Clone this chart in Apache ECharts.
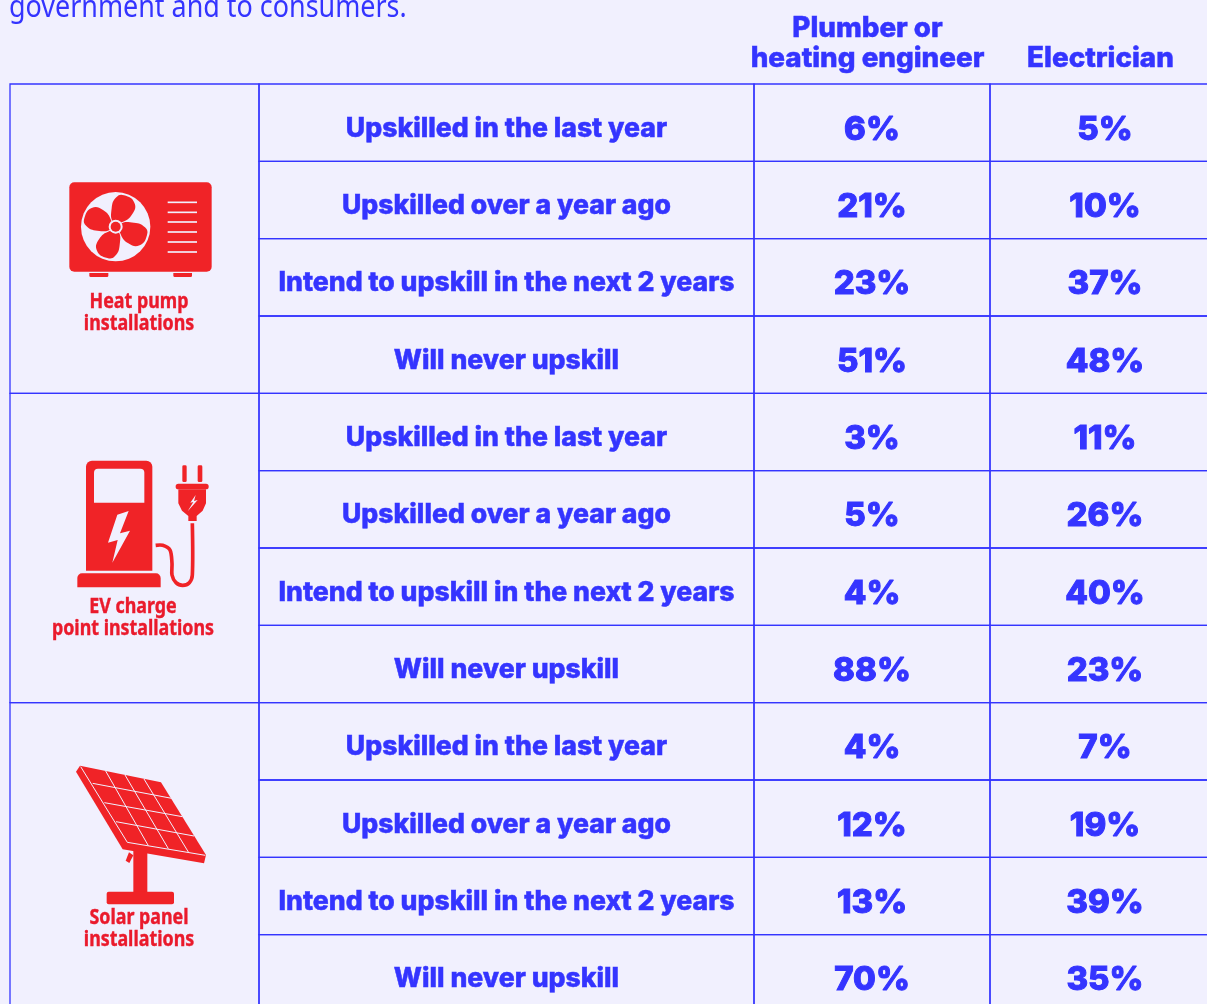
<!DOCTYPE html>
<html>
<head>
<meta charset="utf-8">
<style>
html, body { margin: 0; padding: 0; background: #f1f0fe; overflow: hidden; }
#main { width: 1207px; height: 1004px; }
</style>
</head>
<body>
<div id="main"></div>
<script src="https://cdn.jsdelivr.net/npm/echarts@6/dist/echarts.min.js"></script>
<script>
var stages = ['Upskilled in the last year', 'Upskilled over a year ago', 'Intend to upskill in the next 2 years', 'Will never upskill'];
var technologies = ['Heat pump\ninstallations', 'EV charge\npoint installations', 'Solar panel\ninstallations'];
var headers = ['Plumber or\nheating engineer', 'Electrician'];
var plumber = [6, 21, 23, 51, 3, 5, 4, 88, 4, 12, 13, 70];
var electrician = [5, 10, 37, 48, 11, 26, 40, 23, 7, 19, 39, 35];
var intro = 'government and to consumers.';

var blue = '#3434ff';
var red = '#f02327';
var labelRed = '#ea1a2c';
var bg = '#f1f0fe';
var font = 'Inter';

var rowNames = [];
technologies.forEach(function (t) {
    stages.forEach(function (s) { rowNames.push(t + ' ' + s); });
});
var stageLabels = rowNames.map(function (r, i) { return stages[i % 4]; });

// one cell per row: border rect + centered text
function cellSeries(gridIndex, texts, fontSize, dy, weight) {
    return {
        type: 'custom',
        xAxisIndex: gridIndex,
        yAxisIndex: gridIndex,
        coordinateSystem: 'cartesian2d',
        silent: true,
        clip: false,
        encode: { x: 0, y: 1 },
        data: texts.map(function (t, i) { return [0, i]; }),
        renderItem: function (params, api) {
            var c = api.coord([0, api.value(1)]);
            var s = api.size([0, 1]);
            var w = params.coordSys.width;
            return {
                type: 'group',
                children: [{
                    type: 'rect',
                    shape: { x: c[0] - w / 2, y: c[1] - s[1] / 2, width: w, height: s[1] },
                    style: { fill: 'none', stroke: blue, lineWidth: 1.3 }
                }, {
                    type: 'text',
                    style: {
                        text: texts[params.dataIndex],
                        x: c[0],
                        y: c[1] + dy,
                        align: 'center',
                        verticalAlign: 'middle',
                        fill: blue,
                        stroke: blue,
                        lineWidth: weight,
                        fontFamily: font,
                        fontWeight: 800,
                        fontSize: fontSize
                    }
                }]
            };
        }
    };
}

function pct(list) {
    return list.map(function (v) { return v + '%'; });
}

var grids = [
    { left: 10, top: 84, width: 249, height: 928, outerBoundsMode: 'none' },
    { left: 259, top: 84, width: 495, height: 928, outerBoundsMode: 'none' },
    { left: 754, top: 84, width: 236, height: 928, outerBoundsMode: 'none' },
    { left: 990, top: 84, width: 230, height: 928, outerBoundsMode: 'none' }
];
var columnNames = ['', '', headers[0], headers[1]];
var xAxes = grids.map(function (g, i) {
    return {
        gridIndex: i,
        type: 'category',
        position: 'top',
        data: [columnNames[i]],
        axisLine: { show: false },
        axisTick: { show: false },
        splitLine: { show: false },
        axisLabel: {
            show: i > 1,
            interval: 0,
            margin: 10,
            color: blue,
            textBorderColor: blue,
            textBorderWidth: 0.5,
            fontFamily: font,
            fontWeight: 800,
            fontSize: 27.8,
            lineHeight: 30,
            padding: [0, 9, 0, 0]
        }
    };
});
var yAxes = grids.map(function (g, i) {
    return {
        gridIndex: i,
        type: 'category',
        inverse: true,
        show: false,
        data: i === 0 ? technologies : rowNames
    };
});

// icons, coordinates are in 3x crop units so the groups are scaled by 1/3
function icon(x, y, children) {
    return { type: 'group', x: x, y: y, scaleX: 1 / 3, scaleY: 1 / 3, silent: true, children: children };
}
function fillRed() { return { fill: red }; }
function fillBg() { return { fill: bg }; }

var bladePoints = [[-7, -13], [-12, -55], [2, -88], [25, -94], [56, -72], [50, -38], [18, -13]];
var heatPump = [
    { type: 'rect', shape: { x: 28, y: 22, width: 427, height: 268, r: 15 }, style: fillRed() },
    { type: 'rect', shape: { x: 88, y: 294, width: 57, height: 12, r: [0, 0, 4, 4] }, style: fillRed() },
    { type: 'rect', shape: { x: 340, y: 294, width: 56, height: 12, r: [0, 0, 4, 4] }, style: fillRed() },
    { type: 'circle', shape: { cx: 167, cy: 155, r: 104 }, style: fillBg() }
];
[0, 1, 2, 3].forEach(function (k) {
    heatPump.push({
        type: 'polygon',
        x: 167,
        y: 155,
        rotation: -k * Math.PI / 2,
        shape: { points: bladePoints, smooth: 0.5 },
        style: fillRed()
    });
});
heatPump.push({ type: 'circle', shape: { cx: 167, cy: 155, r: 21 }, style: fillBg() });
heatPump.push({ type: 'circle', shape: { cx: 167, cy: 155, r: 15 }, style: fillRed() });
[82, 112, 141, 171, 201, 231].forEach(function (y) {
    heatPump.push({ type: 'rect', shape: { x: 323, y: y - 2.5, width: 88, height: 5 }, style: fillBg() });
});

var evCharger = [
    { type: 'rect', shape: { x: 168, y: 62, width: 199, height: 330, r: [18, 18, 0, 0] }, style: fillRed() },
    { type: 'rect', shape: { x: 192, y: 86, width: 151, height: 102, r: [12, 12, 0, 0] }, style: fillBg() },
    { type: 'polygon', shape: { points: [[296, 213], [262, 224], [234, 308], [263, 300], [247, 368], [300, 272], [270, 280]] }, style: fillBg() },
    { type: 'rect', shape: { x: 142, y: 400, width: 250, height: 42, r: [14, 14, 0, 0] }, style: fillRed() },
    { type: 'polyline', shape: { points: [[377, 316], [398, 316], [420, 330], [426, 370], [426, 405], [438, 428], [458, 436], [478, 428], [487, 405], [487, 250]], smooth: 0.3 }, style: { fill: 'none', stroke: red, lineWidth: 11 } },
    { type: 'rect', shape: { x: 457, y: 76, width: 13, height: 50, r: 4 }, style: fillRed() },
    { type: 'rect', shape: { x: 503, y: 76, width: 14, height: 50, r: 4 }, style: fillRed() },
    { type: 'rect', shape: { x: 437, y: 131, width: 99, height: 17, r: 8 }, style: fillRed() },
    { type: 'polygon', shape: { points: [[445, 148], [528, 148], [528, 190], [518, 212], [500, 228], [500, 243], [475, 243], [475, 228], [456, 212], [445, 190]] }, style: fillRed() },
    { type: 'polygon', shape: { points: [[497, 165], [481, 188], [490, 186], [473, 214], [503, 180], [492, 183]] }, style: fillBg() }
];

var solarPanel = [
    { type: 'polygon', shape: { points: [[90, 47], [333, 97], [468, 315], [462, 340], [218, 298], [78, 65]] }, style: fillRed() },
    { type: 'rect', shape: { x: 250, y: 300, width: 42, height: 130 }, style: fillRed() },
    { type: 'rect', shape: { x: 170, y: 425, width: 202, height: 38, r: 6 }, style: fillRed() },
    { type: 'polygon', shape: { points: [[237, 307], [250, 316], [238, 339], [227, 332]] }, style: fillRed() }
];
[
    [[92, 50], [232, 277]], [[232, 277], [466, 316]],
    [[167, 63], [295, 287]], [[225, 75], [355, 296]], [[282, 87], [415, 306]],
    [[128, 100], [365, 145]], [[163, 158], [397, 200]], [[198, 215], [432, 258]]
].forEach(function (l) {
    solarPanel.push({
        type: 'line',
        shape: { x1: l[0][0], y1: l[0][1], x2: l[1][0], y2: l[1][1] },
        style: { stroke: bg, lineWidth: 3 }
    });
});

function techLabel(text, x, y) {
    return {
        type: 'text',
        silent: true,
        x: x,
        y: y,
        scaleX: 0.87,
        style: {
            text: text,
            x: 0,
            y: 0,
            align: 'center',
            verticalAlign: 'middle',
            fill: labelRed,
            stroke: labelRed,
            lineWidth: 0.4,
            fontFamily: 'Noto Sans',
            fontWeight: 'bold',
            fontSize: 20.5,
            lineHeight: 22
        }
    };
}

var option = {
    backgroundColor: bg,
    animation: false,
    grid: grids,
    xAxis: xAxes,
    yAxis: yAxes,
    series: [
        cellSeries(0, ['', '', ''], 20, 0, 0),
        cellSeries(1, stageLabels, 26.6, 6, 0.5),
        cellSeries(2, pct(plumber), 33, 7, 1),
        cellSeries(3, pct(electrician), 33, 7, 1)
    ],
    graphic: {
        elements: [
            {
                type: 'text',
                silent: true,
                x: 9,
                y: 8,
                scaleX: 0.868,
                style: {
                    text: intro,
                    x: 0,
                    y: 0,
                    align: 'left',
                    verticalAlign: 'middle',
                    fill: blue,
                    fontFamily: 'Noto Sans',
                    fontSize: 31
                }
            },
            icon(60, 175, heatPump),
            icon(30, 440, evCharger),
            icon(50, 750, solarPanel),
            techLabel(technologies[0], 139, 313),
            techLabel(technologies[1], 133, 618),
            techLabel(technologies[2], 139, 929)
        ]
    }
};

var chart = echarts.init(document.getElementById('main'));
chart.setOption(option);
</script>
</body>
</html>
